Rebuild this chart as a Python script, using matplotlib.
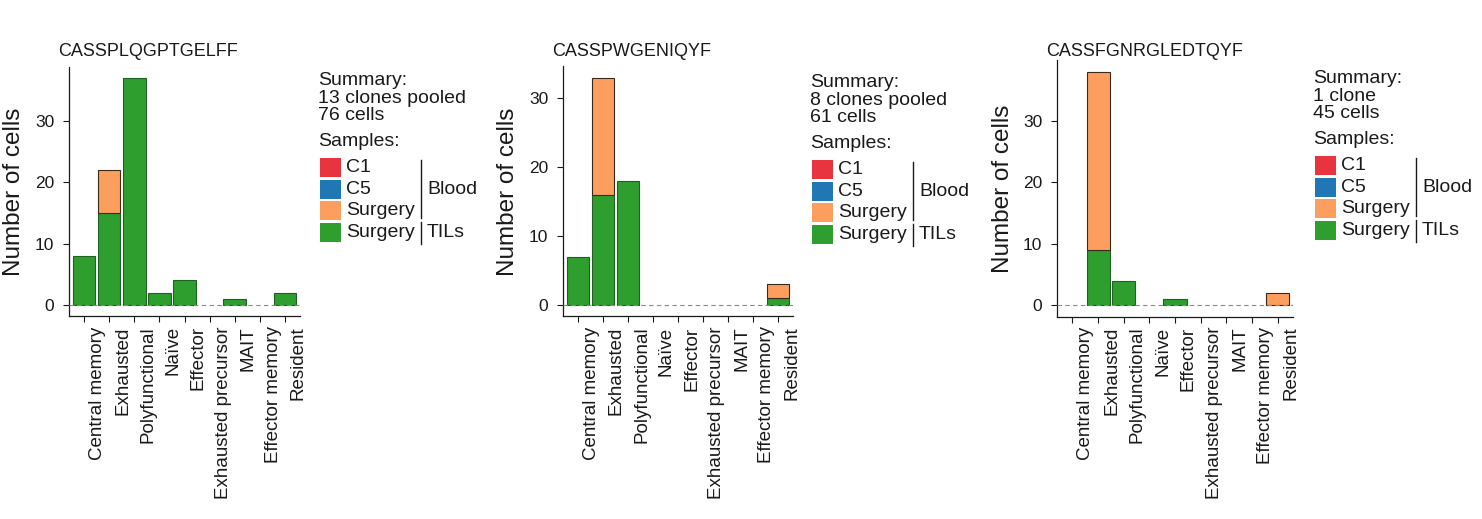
"""Cell-type composition of three pooled TCR clones (stacked bars + custom legend)."""

import matplotlib
matplotlib.use('Agg')
import matplotlib.pyplot as plt
from matplotlib.patches import Rectangle
from matplotlib.lines import Line2D
from matplotlib.transforms import ScaledTranslation, blended_transform_factory
import numpy as np

W, H, DPI = 1482, 519, 100

plt.rcParams['font.family'] = ['Liberation Sans', 'DejaVu Sans']

cell_types = ['Central memory', 'Exhausted', 'Polyfunctional', 'Naïve', 'Effector',
              'Exhausted precursor', 'MAIT', 'Effector memory', 'Resident']

titles = ['CASSPLQGPTGELFF', 'CASSPWGENIQYF', 'CASSFGNRGLEDTQYF']
summary_clones = ['13 clones pooled', '8 clones pooled', '1 clone']
summary_cells = ['76 cells', '61 cells', '45 cells']

# TILs surgery (bottom) and blood surgery (top) counts per cell type
tils_surgery_1 = [8, 15, 37, 2, 4, 0, 1, 0, 2]
blood_surgery_1 = [0, 7, 0, 0, 0, 0, 0, 0, 0]
tils_surgery_2 = [7, 16, 18, 0, 0, 0, 0, 0, 1]
blood_surgery_2 = [0, 17, 0, 0, 0, 0, 0, 0, 2]
tils_surgery_3 = [0, 9, 4, 0, 1, 0, 0, 0, 0]
blood_surgery_3 = [0, 29, 0, 0, 0, 0, 0, 0, 2]

sample_labels = ['C1', 'C5', 'Surgery', 'Surgery']
sample_colors = ['#E8343F', '#1F77B4', '#FC9F5E', '#2E9E2E']
GREEN, ORANGE = sample_colors[3], sample_colors[2]

# panel geometry in pixels: left, right, top, bottom
panel_box = [(69, 300, 66.7, 316.3), (563, 793, 66.3, 316.4), (1057, 1293, 60.3, 316.7)]
ylabel_x = [14, 508, 1003]
legend_anchor = [(318, 85), (810, 87), (1313, 83)]


def fx(x):
    return x / W


def fy(y):
    return 1 - y / H


def draw_legend(fig, x0, y0, clones, cells):
    kw = dict(fontsize=14, color='#1a1a1a', va='baseline', ha='left')
    fig.text(fx(x0), fy(y0), 'Summary:', **kw)
    fig.text(fx(x0), fy(y0 + 18), clones, **kw)
    fig.text(fx(x0), fy(y0 + 35), cells, **kw)
    fig.text(fx(x0), fy(y0 + 61), 'Samples:', **kw)
    step, bh, bw = 21.7, 19, 21
    tops = [y0 + 73 + i * step for i in range(4)]
    for top, lab, col in zip(tops, sample_labels, sample_colors):
        fig.patches.append(Rectangle((fx(x0 + 2), fy(top + bh)), bw / W, bh / H,
                                     transform=fig.transFigure, facecolor=col,
                                     edgecolor='none'))
        fig.text(fx(x0 + 28), fy(top + bh / 2), lab, fontsize=14, color='#1a1a1a',
                 ha='left', va='center')
    lx = x0 + 103
    fig.add_artist(Line2D([fx(lx), fx(lx)], [fy(tops[0] + 2), fy(tops[2] + bh - 2)],
                          color='#1a1a1a', lw=1))
    fig.add_artist(Line2D([fx(lx), fx(lx)], [fy(tops[3] - 1), fy(tops[3] + bh + 2)],
                          color='#1a1a1a', lw=1))
    fig.text(fx(lx + 6), fy((tops[0] + tops[2] + bh) / 2), 'Blood', fontsize=14,
             color='#1a1a1a', ha='left', va='center')
    fig.text(fx(lx + 6), fy(tops[3] + bh / 2), 'TILs', fontsize=14,
             color='#1a1a1a', ha='left', va='center')


fig = plt.figure(figsize=(W / DPI, H / DPI), dpi=DPI)

panels = [(tils_surgery_1, blood_surgery_1), (tils_surgery_2, blood_surgery_2),
          (tils_surgery_3, blood_surgery_3)]
x = np.arange(1, len(cell_types) + 1)

for i, (tils, blood) in enumerate(panels):
    left, right, top, bottom = panel_box[i]
    ax = fig.add_axes([fx(left), fy(bottom), (right - left) / W, (bottom - top) / H])
    tils = np.array(tils)
    blood = np.array(blood)
    m = tils > 0
    ax.bar(x[m], tils[m], width=0.9, color=GREEN, edgecolor='#225f22', linewidth=0.8,
           zorder=2)
    m = blood > 0
    ax.bar(x[m], blood[m], bottom=tils[m], width=0.9, color=ORANGE, edgecolor='#3a2a1a',
           linewidth=0.8, zorder=2)
    ax.axhline(0, color='#8a8a8a', ls=(0, (4, 3)), lw=0.8, zorder=3)

    ymax = (tils + blood).max()
    ax.set_ylim(-0.05 * ymax, 1.05 * ymax)
    ax.set_xlim(0.4, len(cell_types) + 0.6)
    ax.set_yticks([0, 10, 20, 30])
    ax.set_xticks(x)
    ax.set_xticklabels([])
    # rotated category labels sit just right of each tick, as in the original
    lab_tr = blended_transform_factory(ax.transData, ax.transAxes) + \
        ScaledTranslation(5 / DPI, -10 / DPI, fig.dpi_scale_trans)
    for xi, name in zip(x, cell_types):
        ax.text(xi, 0, name, rotation=90, ha='left', va='top', fontsize=13.5,
                color='#1a1a1a', transform=lab_tr, clip_on=False)
    ax.tick_params(axis='y', labelsize=12.5, length=4.5, width=0.8, pad=6, colors='#1a1a1a')
    ax.tick_params(axis='x', length=4, width=0.8, pad=4, colors='#1a1a1a')
    for s in ['top', 'right']:
        ax.spines[s].set_visible(False)
    for s in ['left', 'bottom']:
        ax.spines[s].set_linewidth(0.9)
        ax.spines[s].set_color('#1a1a1a')

    fig.text(fx(left - 11), fy(56), titles[i], fontsize=13, ha='left', va='baseline',
             color='#1a1a1a')
    fig.text(fx(ylabel_x[i]), fy((top + bottom) / 2), 'Number of cells', fontsize=17.5,
             rotation=90, ha='center', va='center', color='#1a1a1a')
    draw_legend(fig, *legend_anchor[i], summary_clones[i], summary_cells[i])

fig.savefig('out.png', dpi=DPI)
